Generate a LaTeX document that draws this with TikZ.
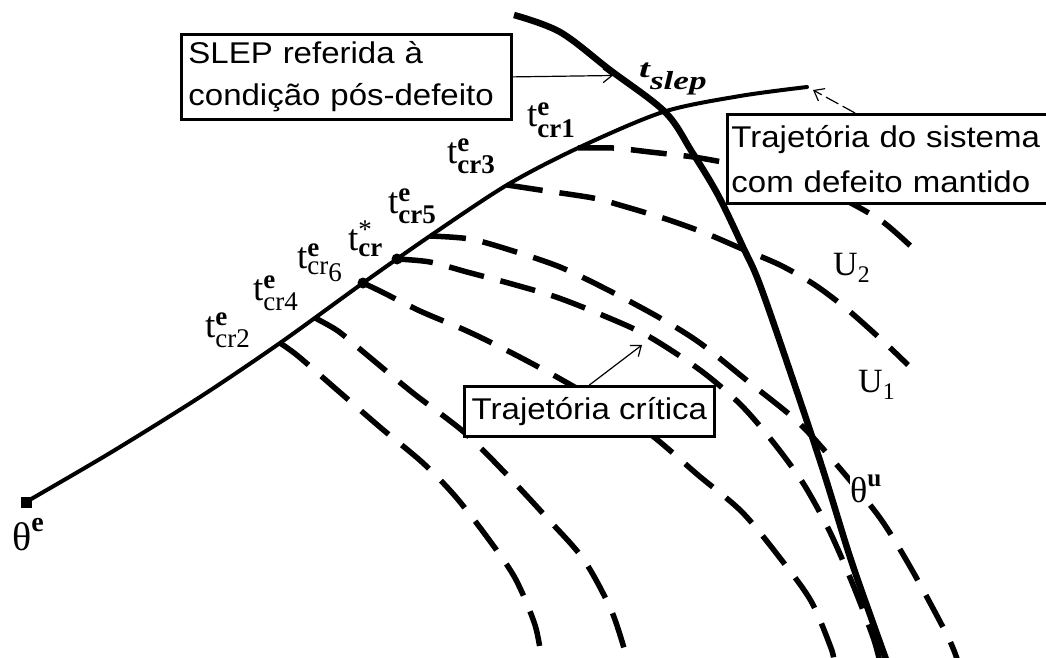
\documentclass[tikz,border=0pt]{standalone}
\usepackage{fontspec}
\usepackage{amsmath}
\usepackage{graphicx}
\setmainfont{Liberation Serif}
\newfontfamily\boxfont[FakeStretch=1.1]{Liberation Sans}
\DeclareMathSizes{37}{37}{27}{20}
\usetikzlibrary{arrows.meta}
\begin{document}
\begin{tikzpicture}[x=1pt,y=-1pt,
  traj/.style={line width=4pt, line cap=round},
  slepline/.style={line width=6.5pt},
  dashcurve/.style={line width=5.5pt, dash pattern=on 36pt off 17pt},
  labelbox/.style={draw, line width=2.8pt, fill=white, inner ysep=0pt},
  thinarrow/.style={line width=1.2pt, -{Straight Barb[length=9pt,width=14pt]}},
  crlabel/.style={inner sep=0pt, anchor=base west, font=\fontsize{37}{40}\selectfont},
  symlabel/.style={inner sep=0pt, anchor=base west}
]
\useasboundingbox (0,0) rectangle (1046,658);

% branch points on the main trajectory
\coordinate (b1) at (578,148);
\coordinate (b3) at (507,185);
\coordinate (b5) at (430,236);
\coordinate (bs) at (397,259);
\coordinate (b6) at (363,283);
\coordinate (b4) at (315,318);
\coordinate (b2) at (280,343);

% dashed post-fault trajectories
\draw[dashcurve] plot[smooth] coordinates {(b1) (613,148) (650,152) (700,158) (760,170) (810,185) (845,200) (883,222) (917,252)};
\draw[dashcurve] plot[smooth] coordinates {(b3) (540,190) (593,198) (623,206) (666,219) (705,233) (740,248) (780,265) (815,285) (848,310) (885,343) (908,365)};
\draw[dashcurve] plot[smooth] coordinates {(b5) (470,239) (510,250) (560,267) (608,290) (660,318) (700,343) (750,383) (798,422) (837,465) (880,518) (912,570) (948,637) (958,662)};
\draw[dashcurve] plot[smooth] coordinates {(bs) (430,262) (467,272) (512,284) (556,297) (602,315) (648,336) (700,370) (740,404) (773,442) (803,483) (828,528) (846,568) (861,605) (874,640) (880,662)};
\draw[dashcurve] plot[smooth] coordinates {(b6) (380,291) (420,311) (467,331) (510,352) (555,376) (600,402) (650,434) (698,475) (742,512) (780,558) (811,601) (831,648) (834,662)};
\draw[dashcurve] plot[smooth] coordinates {(b4) (338,331) (367,355) (413,393) (465,433) (510,478) (548,519) (584,560) (612,612) (628,662)};
\draw[dashcurve] plot[smooth] coordinates {(b2) (298,356) (336,389) (381,428) (423,463) (455,496) (487,537) (515,578) (535,625) (542,662)};

% SLEP / stable manifold
\draw[slepline] plot[smooth, tension=0.55] coordinates {(514,15) (560,32) (610,70) (665,112) (692,152) (718,195) (743,247) (760,285) (793,380) (823,470) (850,557) (873,623) (887,662)};

% equilibrium point and fault-on trajectory
\node[fill, minimum size=11pt, inner sep=0pt] (eq) at (26,502) {};
\draw[traj] plot[smooth, tension=0.5] coordinates {(eq.center) (110,453) (200,397) (b2) (b6) (b5) (b3) (b1) (663,112) (740,96) (807,87)};
\coordinate (trajEnd) at (813,90);
\fill (bs) circle (5.5pt);
\fill (b6) circle (5.5pt);

% boxes
\node[labelbox, anchor=north west, text width=316pt, inner xsep=7pt, minimum height=85pt, align=left,
      font=\boxfont\fontsize{30}{42}\selectfont] (slepbox) at (180,33) {SLEP referida à\\condição pós-defeito};
\node[labelbox, anchor=north west, text width=330pt, inner xsep=4pt, minimum height=89pt, align=left,
      font=\boxfont\fontsize{30}{45}\selectfont] (trajbox) at (726,113) {Trajetória do sistema\\com defeito mantido};
\node[labelbox, anchor=north west, minimum width=250pt, minimum height=50pt, inner xsep=0pt,
      font=\boxfont\fontsize{30}{36}\selectfont] (critbox) at (463,385) {Trajetória crítica};

% arrows
\coordinate (slepTip) at (613,75.5);
\coordinate (critTip) at (642,345);
\draw[thinarrow] (slepbox.east) -- (slepTip);
\draw[thinarrow] (critbox.north) -- (critTip);
\draw[thinarrow, dash pattern=on 14pt off 5pt] ([xshift=129pt]trajbox.north west) -- (trajEnd);

% labels
\node[symlabel, font=\fontsize{26}{26}\selectfont\bfseries\itshape] (tslep) at (639,78)
  {\scalebox{1.5}[1]{t}\raisebox{-12pt}{\scalebox{1.35}[1]{slep}}};
\node[crlabel] (tcr1) at (527,127) {$\text{t}^{\textbf{e}}_{\textbf{cr1}}$};
\node[crlabel] (tcr3) at (447,163) {$\text{t}^{\textbf{e}}_{\textbf{cr3}}$};
\node[crlabel] (tcr5) at (388,213) {$\text{t}^{\textbf{e}}_{\textbf{cr5}}$};
\node[crlabel] (tcrs) at (348,250) {$\text{t}^{\text{*}}_{\textbf{cr}}$};
\node[crlabel] (tcr6) at (297,268) {$\text{t}^{\textbf{e}}_{\text{cr\raisebox{-7pt}{6}}}$};
\node[crlabel] (tcr4) at (253,300) {$\text{t}^{\textbf{e}}_{\text{cr4}}$};
\node[crlabel] (tcr2) at (205,337) {$\text{t}^{\textbf{e}}_{\text{cr2}}$};
\node[symlabel, font=\fontsize{40}{40}\selectfont] (thetae) at (12,550) {$\text{θ}^{\textbf{e}}$};
\node[symlabel, fill=white, font=\fontsize{36}{36}\selectfont] (thetau) at (850,502) {$\text{θ}^{\textbf{u}}$};
\node[symlabel, font=\fontsize{34}{34}\selectfont] (u2) at (833,275) {$\text{U}_{\text{2}}$};
\node[symlabel, font=\fontsize{34}{34}\selectfont] (u1) at (858,392) {$\text{U}_{\text{1}}$};
\end{tikzpicture}
\end{document}
